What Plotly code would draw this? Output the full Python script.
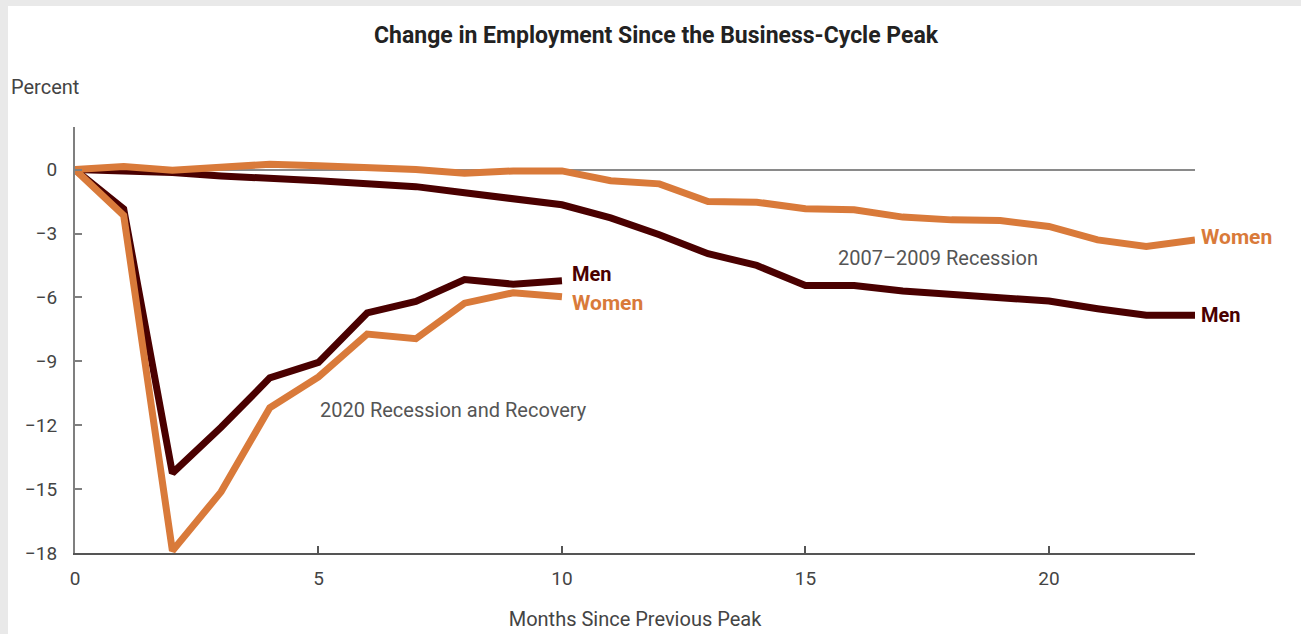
import plotly.graph_objects as go

months_2007 = list(range(24))
men_2007 = [0, -0.03, -0.14, -0.3, -0.38, -0.52, -0.66, -0.8, -1.09, -1.36, -1.65, -2.27,
            -3.06, -3.95, -4.5, -5.44, -5.44, -5.7, -5.86, -5.94, -6.17, -6.53, -6.84, -6.84]
women_2007 = [0, 0.15, -0.03, 0.1, 0.25, 0.18, 0.12, 0.0, -0.17, -0.06, -0.06, -0.52,
              -0.67, -1.5, -1.53, -1.84, -1.89, -2.23, -2.36, -2.39, -2.67, -3.3, -3.61, -3.3]

months_2020 = list(range(11))
men_2020 = [0, -1.85, -14.25, -12.1, -9.78, -9.05, -6.73, -6.19, -5.16, -5.38, -5.22]
women_2020 = [0, -2.15, -17.9, -15.13, -11.18, -9.73, -7.72, -7.94, -6.27, -5.78, -5.97]

y_ticks = [0, -3, -6, -9, -12, -15, -18]
y_ticktext = ["0", "\u22123", "\u22126", "\u22129", "\u221212", "\u221215", "\u221218"]
x_ticks = [0, 5, 10, 15, 20]

MEN = "#4a0000"
WOMEN = "#d97a3a"
TXT = "#444444"
FONT = "Roboto"

W, H = 1301, 634
ML, MR, MT, MB = 75, 106, 127, 81
PW, PH = W - ML - MR, H - MT - MB

fig = go.Figure()
for xs, ys, c in [(months_2007, men_2007, MEN), (months_2020, men_2020, MEN),
                  (months_2007, women_2007, WOMEN), (months_2020, women_2020, WOMEN)]:
    fig.add_trace(go.Scatter(x=xs, y=ys, mode="lines",
                             line=dict(color=c, width=7), showlegend=False,
                             hoverinfo="skip", cliponaxis=False))

def px2paper_x(px):
    return (px - ML) / PW

def px2paper_y(py):
    return (H - MB - py) / PH

shapes = [dict(type="rect", xref="paper", yref="paper", layer="below",
               x0=px2paper_x(8), x1=px2paper_x(W + 5),
               y0=px2paper_y(H + 5), y1=px2paper_y(6),
               fillcolor="white", line=dict(width=0))]

annotations = [
    dict(x=months_2020[-1], y=men_2020[-1], xref="x", yref="y", text="<b>Men</b>",
         showarrow=False, xanchor="left", yanchor="middle", xshift=8, yshift=7,
         font=dict(family=FONT, size=20, color=MEN)),
    dict(x=months_2020[-1], y=women_2020[-1], xref="x", yref="y", text="<b>Women</b>",
         showarrow=False, xanchor="left", yanchor="middle", xshift=8, yshift=-6,
         font=dict(family=FONT, size=21, color=WOMEN)),
    dict(x=months_2007[-1], y=women_2007[-1], xref="x", yref="y", text="<b>Women</b>",
         showarrow=False, xanchor="left", yanchor="middle", xshift=4, yshift=3,
         font=dict(family=FONT, size=21, color=WOMEN)),
    dict(x=months_2007[-1], y=men_2007[-1], xref="x", yref="y", text="<b>Men</b>",
         showarrow=False, xanchor="left", yanchor="middle", xshift=4, yshift=0,
         font=dict(family=FONT, size=20, color=MEN)),
    dict(x=15.63, y=-4.15, xref="x", yref="y", text="2007\u20132009 Recession",
         showarrow=False, xanchor="left", yanchor="middle",
         font=dict(family=FONT, size=20, color="#555555")),
    dict(x=4.98, y=-11.3, xref="x", yref="y", text="2020 Recession and Recovery",
         showarrow=False, xanchor="left", yanchor="middle",
         font=dict(family=FONT, size=20, color="#555555")),
    dict(x=px2paper_x(9), y=px2paper_y(87), xref="paper", yref="paper", text="Percent",
         showarrow=False, xanchor="left", yanchor="middle",
         font=dict(family=FONT, size=20, color=TXT)),
    dict(x=px2paper_x(656), y=px2paper_y(35), xref="paper", yref="paper",
         text="<b>Change in Employment Since the Business-Cycle Peak</b>",
         showarrow=False, xanchor="center", yanchor="middle",
         font=dict(family=FONT, size=23, color="#222222")),
]

fig.update_layout(
    width=W, height=H,
    margin=dict(l=ML, r=MR, t=MT, b=MB, pad=0, autoexpand=False),
    paper_bgcolor="#e9e9e9", plot_bgcolor="white",
    shapes=shapes, annotations=annotations,
    font=dict(family=FONT, size=19, color=TXT),
    xaxis=dict(range=[0, 23], tickvals=x_ticks, ticks="inside", ticklen=7,
               tickwidth=1.5, tickcolor="#555555", showline=True, linecolor="#555555",
               linewidth=2, showgrid=False, zeroline=False, automargin=False,
               tickfont=dict(family=FONT, size=19, color=TXT), ticklabelstandoff=7,
               title=dict(text="Months Since Previous Peak", standoff=23,
                          font=dict(family=FONT, size=20, color=TXT))),
    yaxis=dict(range=[-18, 2], tickvals=y_ticks, ticktext=y_ticktext, ticks="inside",
               ticklen=7, tickwidth=1.5, tickcolor="#7f7f7f", showline=True,
               linecolor="#7f7f7f", linewidth=2, showgrid=False, automargin=False,
               zeroline=True, zerolinecolor="#8a8a8a", zerolinewidth=1.5,
               tickfont=dict(family=FONT, size=19, color=TXT), ticklabelstandoff=12),
)

fig.write_html("out.html")
